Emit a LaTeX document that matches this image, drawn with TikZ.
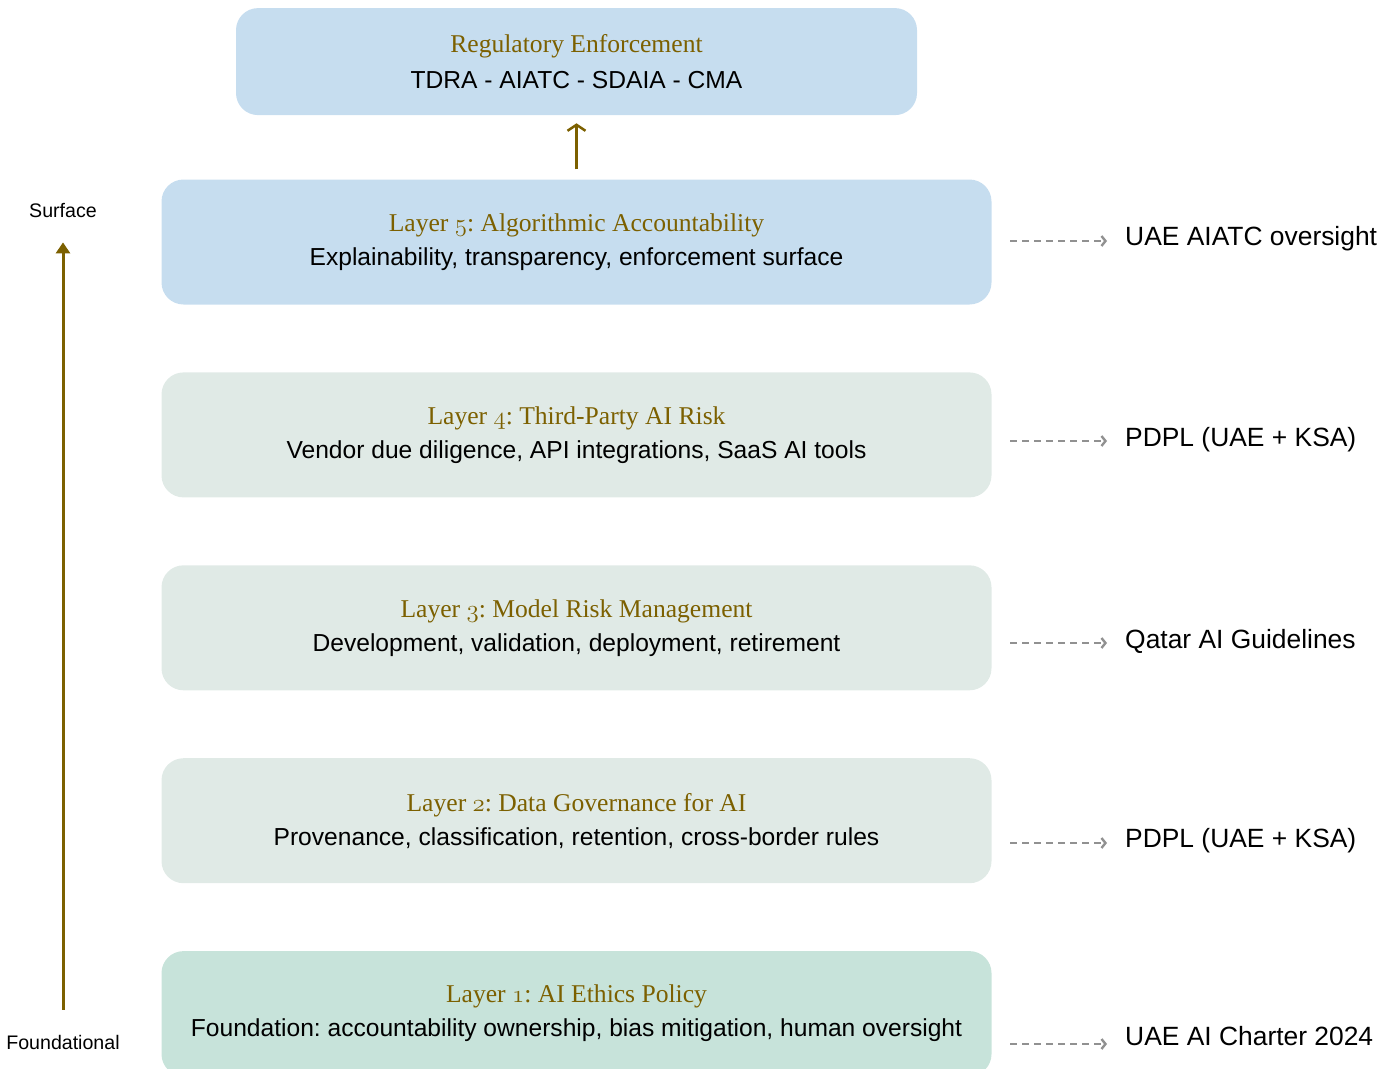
\documentclass[tikz,border=0pt]{standalone}
\usepackage{fontspec}
\usepackage{tikz}
\usetikzlibrary{arrows.meta,positioning}
\newfontfamily\bodyfont{Liberation Sans}
\newfontfamily\headfont{Liberation Serif}
\definecolor{olivegold}{RGB}{124,96,0}
\definecolor{surfblue}{RGB}{198,221,239}
\definecolor{midgrey}{RGB}{224,234,230}
\definecolor{basegreen}{RGB}{199,227,218}
\definecolor{linkgrey}{RGB}{145,145,145}
\frenchspacing
% old-style digits for the layer titles
\newcommand{\onum}[1]{{\fontencoding{OML}\fontfamily{cmm}\fontseries{m}\fontshape{it}\selectfont #1}}
\newcommand{\layertitle}[1]{{\headfont\fontsize{25.6}{30}\selectfont\color{olivegold}#1}}

\begin{document}
\begin{tikzpicture}[
  x=1pt,y=-1pt,
  layer/.style={rounded corners=22pt,minimum width=830pt,minimum height=125pt,inner sep=0pt,align=center,font=\bodyfont\fontsize{24.6}{34}\selectfont},
  sidelab/.style={anchor=west,inner sep=0pt,font=\bodyfont\fontsize{26.4}{30}\selectfont},
  axislab/.style={inner sep=0pt,font=\bodyfont\fontsize{19.6}{22}\selectfont},
  uparr/.style={-{Straight Barb[length=6pt,width=18pt,line width=2.5pt]},line width=2.5pt,olivegold},
  axisarr/.style={-{Triangle[length=11pt,width=14pt]},line width=3pt,olivegold},
  linkarr/.style={-{Straight Barb[length=4pt,width=10pt,line width=2.4pt]},line width=2.4pt,linkgrey,dash pattern=on 7pt off 5pt},
]
\useasboundingbox (0,0) rectangle (1396,1068);

% layer stack
\node[layer,fill=surfblue] (l5) at (576.5,242) {\layertitle{Layer \onum{5}: Algorithmic Accountability}\\Explainability, transparency, enforcement surface};
\node[layer,fill=midgrey,below=67.5pt of l5] (l4) {\layertitle{Layer \onum{4}: Third-Party AI Risk}\\Vendor due diligence, API integrations, SaaS AI tools};
\node[layer,fill=midgrey,below=67.5pt of l4] (l3) {\layertitle{Layer \onum{3}: Model Risk Management}\\Development, validation, deployment, retirement};
\node[layer,fill=midgrey,below=67.5pt of l3] (l2) {\layertitle{Layer \onum{2}: Data Governance for AI}\\Provenance, classification, retention, cross-border rules};
\node[layer,fill=basegreen,below=67.5pt of l2] (l1) {\layertitle{Layer \onum{1}: AI Ethics Policy}\\Foundation: accountability ownership, bias mitigation, human oversight};

% enforcement on top
\node[layer,fill=surfblue,minimum width=681pt,minimum height=107pt,above=64pt of l5] (enf) {\layertitle{Regulatory Enforcement}\\[2pt]TDRA - AIATC - SDAIA - CMA};
\draw[uparr,shorten <=10pt,shorten >=8pt] (l5.north) -- (enf.south);

% surface / foundational axis
\node[axislab] (surf) at (63,211) {Surface};
\node[axislab] (found) at (63,1042) {Foundational};
\draw[axisarr,shorten <=25pt,shorten >=24pt] (found) -- (surf);

% regulations on the right
\node[sidelab] (r5) at (1125,239) {UAE AIATC oversight};
\node[sidelab] (r4) at (1125,440) {PDPL (UAE + KSA)};
\node[sidelab] (r3) at (1125,641) {Qatar AI Guidelines};
\node[sidelab] (r2) at (1125,841) {PDPL (UAE + KSA)};
\node[sidelab] (r1) at (1125,1036) {UAE AI Charter 2024};
\coordinate (d5) at (1010,241);
\coordinate (d4) at (1010,441);
\coordinate (d3) at (1010,643);
\coordinate (d2) at (1010,843);
\coordinate (d1) at (1010,1044);
\foreach \i in {1,...,5}
  \draw[linkarr,shorten >=18pt] (d\i) -- (d\i -| r\i.west);
\end{tikzpicture}
\end{document}
